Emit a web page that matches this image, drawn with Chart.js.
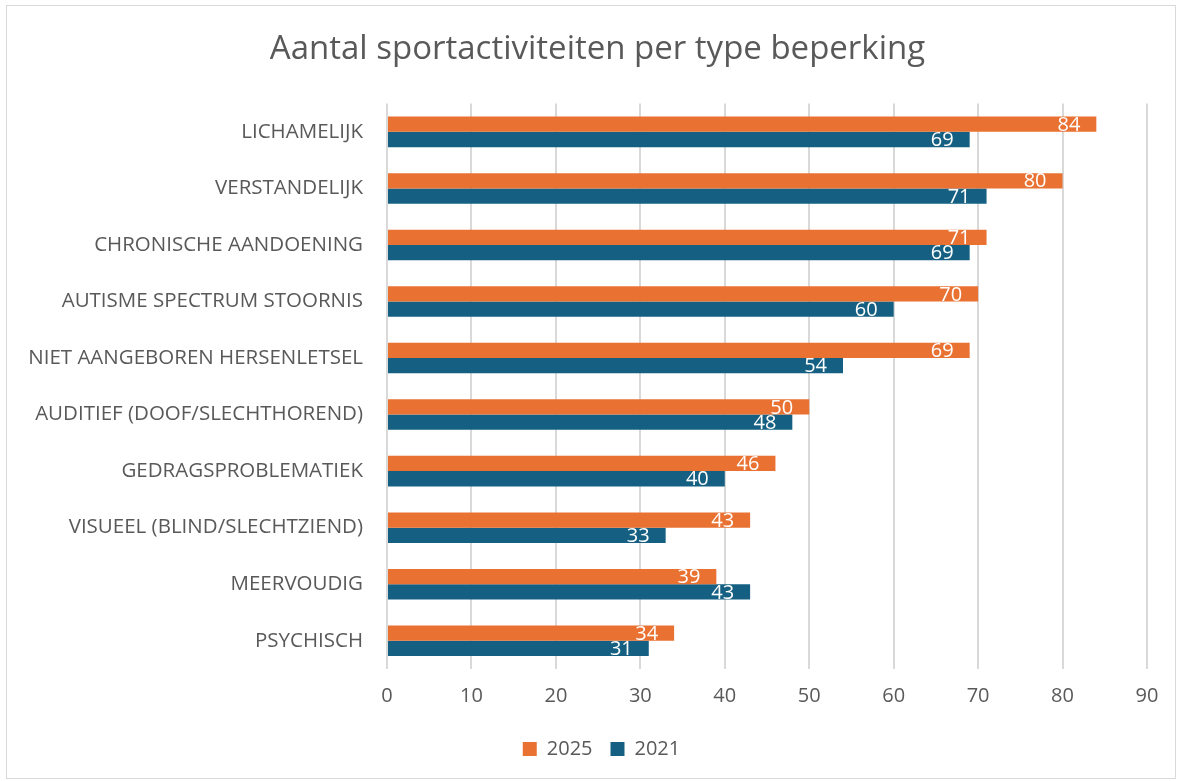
<!DOCTYPE html>
<html>
<head>
<meta charset="utf-8">
<script src="https://cdn.jsdelivr.net/npm/chart.js@4.4.1/dist/chart.umd.min.js"></script>
<style>
  html, body { margin: 0; padding: 0; background: #fff; }
  #wrap { position: relative; width: 1181px; height: 781px; }
  #frame { position: absolute; left: 6px; top: 5px; width: 1168px; height: 772px; border: 1px solid #d9d9d9; pointer-events: none; }
  canvas { position: absolute; left: 0; top: 0; }
</style>
</head>
<body>
<div id="wrap">
  <canvas id="chart" width="1181" height="781"></canvas>
  <div id="frame"></div>
</div>
<script>
// ---- data ----
const categories = [
  'LICHAMELIJK',
  'VERSTANDELIJK',
  'CHRONISCHE AANDOENING',
  'AUTISME SPECTRUM STOORNIS',
  'NIET AANGEBOREN HERSENLETSEL',
  'AUDITIEF (DOOF/SLECHTHOREND)',
  'GEDRAGSPROBLEMATIEK',
  'VISUEEL (BLIND/SLECHTZIEND)',
  'MEERVOUDIG',
  'PSYCHISCH'
];
const values2025 = [84, 80, 71, 70, 69, 50, 46, 43, 39, 34];
const values2021 = [69, 71, 69, 60, 54, 48, 40, 33, 43, 31];
const xTicks = [0, 10, 20, 30, 40, 50, 60, 70, 80, 90];

const FONT = "'Open Sans', sans-serif";
const GREY = '#595959';

// white value labels at the inner end of each bar
const valueLabels = {
  id: 'valueLabels',
  afterDatasetsDraw(chart) {
    const ctx = chart.ctx;
    ctx.save();
    ctx.fillStyle = '#ffffff';
    ctx.font = "20px " + FONT;
    ctx.textAlign = 'right';
    ctx.textBaseline = 'middle';
    chart.data.datasets.forEach((ds, i) => {
      chart.getDatasetMeta(i).data.forEach((bar, j) => {
        ctx.fillText(String(ds.data[j]), bar.x - 16, bar.y + 1);
      });
    });
    ctx.restore();
  }
};

// title and legend sit a bit right of the plot centre in the original
const nudge = {
  id: 'nudge',
  afterLayout(chart) {
    if (chart.titleBlock) { chart.titleBlock.left += 24; chart.titleBlock.right += 24; }
    if (chart.legend) { chart.legend.left += 28; chart.legend.right += 28; }
  }
};

new Chart(document.getElementById('chart').getContext('2d'), {
  type: 'bar',
  data: {
    labels: categories,
    datasets: [
      { label: '2025', data: values2025, backgroundColor: '#E97132',
        categoryPercentage: 0.54, barPercentage: 1 },
      { label: '2021', data: values2021, backgroundColor: '#156082',
        categoryPercentage: 0.54, barPercentage: 1 }
    ]
  },
  options: {
    responsive: false,
    animation: false,
    indexAxis: 'y',
    layout: { padding: { left: 0, right: 34, top: 0, bottom: 12 } },
    scales: {
      x: {
        min: 0, max: 90,
        afterBuildTicks: s => { s.ticks = xTicks.map(v => ({ value: v })); },
        afterFit: s => { s.height = 52; },
        border: { display: false },
        grid: { color: '#d9d9d9', lineWidth: 2, drawTicks: false },
        ticks: { color: GREY, font: { family: FONT, size: 20 }, padding: 15 }
      },
      y: {
        afterFit: s => { s.width = 387; },
        border: { display: false },
        grid: { display: false, drawTicks: false },
        ticks: { color: GREY, font: { family: FONT, size: 20.5 }, padding: 24, autoSkip: false }
      }
    },
    plugins: {
      title: {
        display: true,
        text: 'Aantal sportactiviteiten per type beperking',
        color: GREY,
        font: { family: FONT, size: 33, weight: 'normal' },
        padding: { top: 30, bottom: 34 }
      },
      legend: {
        position: 'bottom',
        labels: { color: GREY, font: { family: FONT, size: 20 }, boxWidth: 14, boxHeight: 14, padding: 18 }
      },
      tooltip: { enabled: false }
    }
  },
  plugins: [valueLabels, nudge]
});
</script>
</body>
</html>
